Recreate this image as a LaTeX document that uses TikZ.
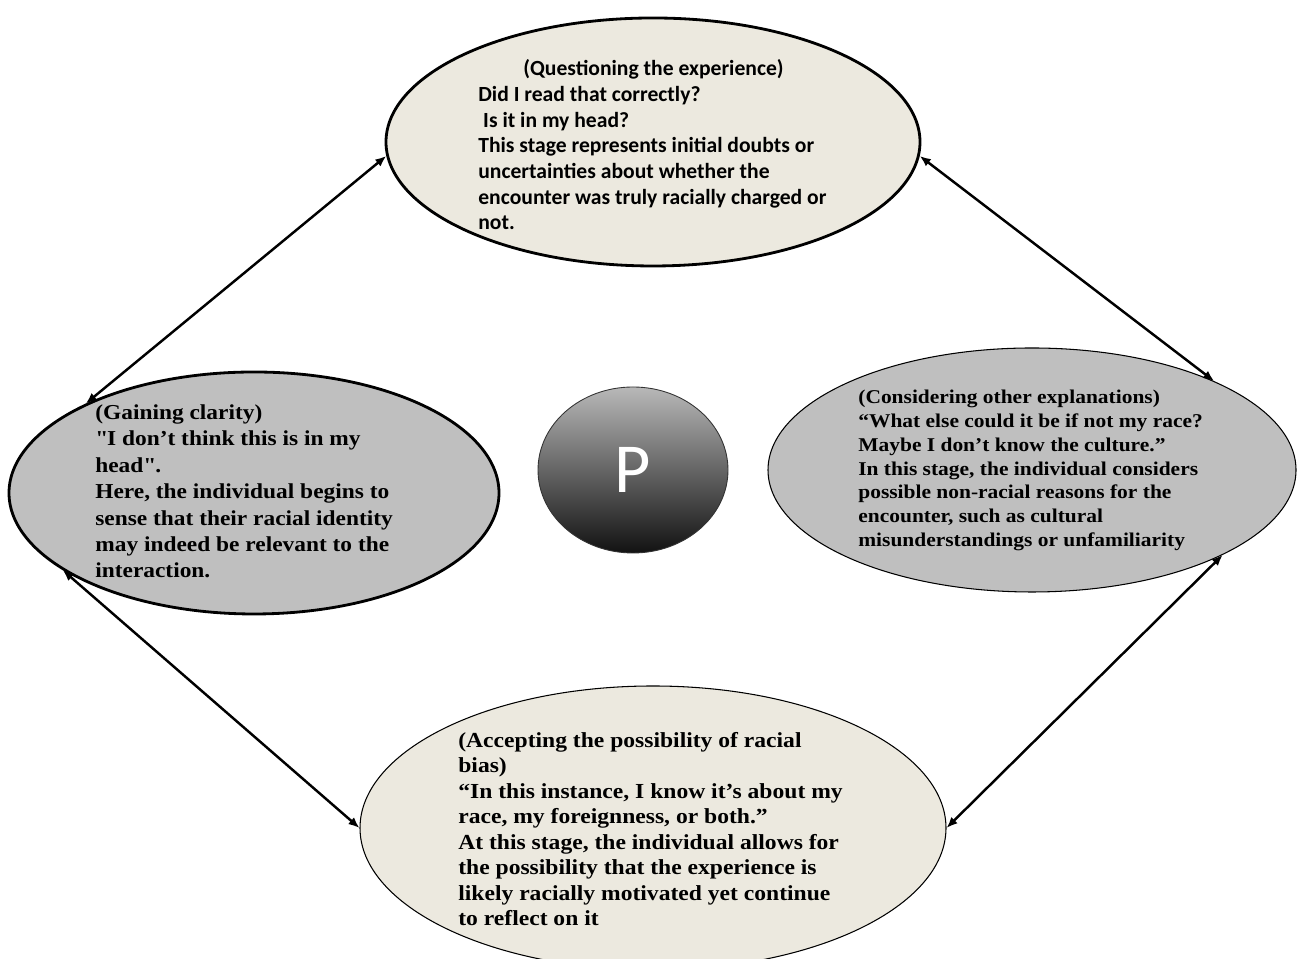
\documentclass[tikz,border=0pt]{standalone}
\usepackage{fontspec}
\setmainfont{Liberation Serif}
\newfontfamily\pala[FakeStretch=1.1]{Liberation Serif}
\newfontfamily\calib{Carlito}
\usetikzlibrary{positioning,arrows.meta,shapes.geometric}
\definecolor{stageBeige}{HTML}{ECE9DF}
\definecolor{stageGrey}{HTML}{BFBFBF}
\definecolor{hubTop}{HTML}{B8B8B8}
\definecolor{hubBot}{HTML}{121212}

\begin{document}
\begin{tikzpicture}[
          stage/.style={ellipse, draw=black, inner sep=0pt},
          txt/.style={anchor=north west, align=left, inner sep=0pt},
          both/.style={{Latex[length=2.2mm,width=1.8mm]}-{Latex[length=2.2mm,width=1.8mm]},line width=1.4pt}]
        \useasboundingbox (0,0) rectangle (25.98,19.18);
        % the four stages
        \node[stage, fill=stageBeige, line width=1.6pt, minimum width=10.68cm, minimum height=4.96cm] (quest) at (13.06,16.34) {};
        \node[stage, fill=stageGrey, line width=1.6pt, minimum width=9.8cm, minimum height=4.84cm] (clar) at (5.08,9.32) {};
        \node[stage, fill=stageGrey, line width=0.6pt, minimum width=10.56cm, minimum height=4.88cm] (cons) at (20.64,9.78) {};
        \node[stage, fill=stageBeige, line width=0.6pt, minimum width=11.72cm, minimum height=5.68cm] (acc) at (13.06,2.62) {};
        % hub
        \node[stage, top color=hubTop, bottom color=hubBot, draw=black!80, line width=0.5pt,
              minimum width=3.8cm, minimum height=3.32cm,
              font=\calib\fontsize{40}{40}\selectfont, text=white] (hub) at (12.66,9.78) {P};
        % texts
        \node[txt, font=\calib\fontsize{12.3}{14.6}\selectfont\bfseries] (questtxt) at (9.56,17.99) {%
          \hspace*{0.9cm}(Questioning the experience)\\
          Did I read that correctly?\\
          \ Is it in my head?\\
          This stage represents initial doubts or\\
          uncertainties about whether the\\
          encounter was truly racially charged or\\
          not.};
        \node[txt, font=\pala\fontsize{12.1}{15}\selectfont\bfseries] (clartxt) at (1.9,11.09) {%
          (Gaining clarity)\\
          \textquotedbl I don’t think this is in my\\
          head\textquotedbl.\\
          Here, the individual begins to\\
          sense that their racial identity\\
          may indeed be relevant to the\\
          interaction.};
        \node[txt, font=\pala\fontsize{11.1}{13.6}\selectfont\bfseries] (constxt) at (17.16,11.39) {%
          (Considering other explanations)\\
          “What else could it be if not my race?\\
          Maybe I don’t know the culture.”\\
          In this stage, the individual considers\\
          possible non-racial reasons for the\\
          encounter, such as cultural\\
          misunderstandings or unfamiliarity};
        \node[txt, font=\pala\fontsize{12.2}{14.5}\selectfont\bfseries] (acctxt) at (9.16,4.54) {%
          (Accepting the possibility of racial\\
          bias)\\
          “In this instance, I know it’s about my\\
          race, my foreignness, or both.”\\
          At this stage, the individual allows for\\
          the possibility that the experience is\\
          likely racially motivated yet continue\\
          to reflect on it};
        % connectors
        \draw[both] (quest.183) -- (clar.152);
        \draw[both] (quest.357) -- (cons.26);
        \draw[both] (clar.202) -- (acc.180);
        \draw[both] (cons.336) -- (acc.0);
      \end{tikzpicture}
\end{document}
